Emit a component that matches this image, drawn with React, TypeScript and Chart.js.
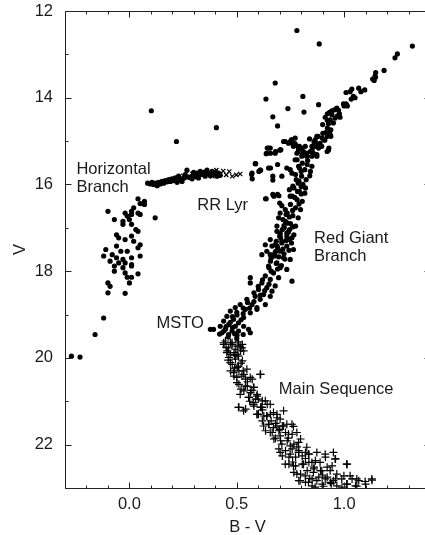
import React, { useEffect, useRef } from "react";
import { Chart, registerables } from "chart.js";

Chart.register(...registerables);

// Axis ranges and tick labels
const xMin = -0.3;
const xMax = 1.4;
const yMin = 12;
const yMax = 23;
const xTickLabels = [0.0, 0.5, 1.0];
const yTickLabels = [12, 14, 16, 18, 20, 22];

// Blue horizontal branch (dots)
const hbBlueDots: number[][] = [
  [0.04, 16.33], [0.07, 16.39], [0.05, 16.44], [0.07, 16.46], [-0.10, 16.62], [0.02, 16.54], [0.01, 16.62],
  [-0.02, 16.66], [0.12, 16.77], [0.01, 16.69], [-0.01, 16.73], [0.04, 16.66], [0.05, 16.69], [-0.07, 16.81],
  [-0.03, 16.85], [0.00, 16.81], [-0.03, 16.92], [0.01, 16.92], [0.03, 17.04], [0.04, 17.08], [-0.06, 17.16],
  [-0.05, 17.23], [0.01, 17.19], [-0.02, 17.27], [0.02, 17.31], [0.05, 17.39], [-0.06, 17.42], [0.04, 17.46],
  [-0.11, 17.50], [-0.04, 17.54], [-0.01, 17.54], [0.05, 17.65], [-0.12, 17.65], [-0.08, 17.62], [-0.06, 17.69],
  [-0.03, 17.73], [0.01, 17.69], [-0.09, 17.77], [-0.05, 17.81], [-0.02, 17.81], [0.01, 17.85], [-0.07, 17.88],
  [-0.03, 17.92], [0.01, 17.88], [-0.07, 18.00], [-0.02, 18.04], [0.04, 18.06], [-0.01, 18.14], [0.01, 18.14],
  [-0.10, 18.27], [-0.09, 18.35], [0.00, 18.27], [-0.10, 18.50], [-0.02, 18.51], [-0.12, 19.08], [-0.16, 19.46],
  [-0.27, 19.96], [-0.23, 19.98],
];

// Horizontal part of the HB (dots)
const hbRedDots: number[][] = [
  [0.085, 15.97], [0.098, 15.99], [0.105, 15.95], [0.113, 16.0], [0.121, 15.97], [0.129, 16.03], [0.136, 15.95],
  [0.144, 15.99], [0.152, 15.93], [0.16, 15.97], [0.167, 15.91], [0.175, 15.94], [0.183, 15.89], [0.191, 15.93],
  [0.198, 15.87], [0.206, 15.91], [0.214, 15.85], [0.222, 15.95], [0.229, 15.81], [0.237, 15.89], [0.245, 15.93],
  [0.253, 15.85], [0.26, 15.77], [0.268, 15.67], [0.276, 15.83], [0.292, 15.87], [0.299, 15.81], [0.315, 15.80],
  [0.322, 15.85], [0.292, 15.81], [0.299, 15.72], [0.307, 15.77], [0.315, 15.74], [0.322, 15.81], [0.33, 15.70],
  [0.338, 15.77], [0.346, 15.72], [0.353, 15.81], [0.361, 15.67], [0.369, 15.75], [0.377, 15.80], [0.385, 15.70],
  [0.392, 15.77], [0.40, 15.72], [0.408, 15.81], [0.415, 15.74], [0.423, 15.79],
];

// RR Lyrae variables (x marks)
const rrLyrCrosses: number[][] = [
  [0.098, 15.98], [0.251, 15.80], [0.27, 15.85], [0.293, 15.76], [0.316, 15.83], [0.34, 15.78], [0.363, 15.74],
  [0.386, 15.81], [0.405, 15.67], [0.423, 15.76], [0.437, 15.69], [0.451, 15.78], [0.465, 15.70], [0.479, 15.81],
  [0.498, 15.78], [0.516, 15.76],
];

// Red giant branch, subgiants and field stars (dots)
const giantDots: number[][] = [
  [0.102, 14.30], [0.219, 15.01], [0.405, 14.69],
  [0.78, 12.45], [0.884, 12.76], [1.318, 12.81], [1.248, 12.99], [1.237, 13.08], [1.186, 13.37], [1.147, 13.42],
  [1.144, 13.50], [1.133, 13.57], [1.14, 13.60], [1.146, 13.53], [0.679, 13.66], [0.636, 14.03], [0.808, 13.97],
  [0.738, 14.25], [0.881, 14.16], [0.668, 14.44], [0.813, 14.33], [0.69, 14.65], [1.096, 13.82], [1.068, 13.78],
  [1.078, 13.86], [1.036, 13.80], [1.028, 13.86], [1.009, 13.88], [1.043, 13.97], [1.033, 14.03], [1.051, 14.0],
  [1.009, 14.14], [1.0, 14.19], [1.015, 14.19], [0.997, 14.14], [0.966, 14.24], [0.955, 14.28], [0.943, 14.30],
  [0.932, 14.34], [0.922, 14.37], [0.974, 14.29], [0.943, 14.39], [0.969, 14.42], [0.981, 14.45], [0.958, 14.47],
  [0.912, 14.45], [0.922, 14.52], [0.935, 14.51], [0.978, 14.37], [0.927, 14.60], [0.922, 14.70], [0.938, 14.74],
  [0.932, 14.80], [0.916, 14.80], [0.935, 14.85], [0.922, 14.89], [0.938, 14.89], [0.901, 14.82], [0.873, 14.89],
  [0.865, 14.97], [0.839, 14.95], [0.876, 15.08], [0.888, 15.05], [0.85, 15.12], [0.865, 15.12], [0.881, 15.16],
  [0.896, 15.12], [0.927, 15.21], [0.819, 15.12], [0.803, 15.16], [0.788, 15.18], [0.772, 14.93], [0.749, 15.01],
  [0.761, 15.06], [0.78, 15.11], [0.718, 15.01], [0.705, 15.20], [0.679, 15.28], [0.648, 15.16], [0.64, 15.28],
  [0.811, 15.24], [0.826, 15.28], [0.842, 15.24], [0.857, 15.28], [0.873, 15.31], [0.803, 15.35], [0.826, 15.35],
  [0.85, 15.35], [0.873, 15.35],
  [0.656, 15.16], [0.70, 15.21], [0.726, 15.01], [0.741, 15.05], [0.757, 14.97], [0.637, 15.29], [0.586, 15.52],
  [0.609, 15.67], [0.571, 15.74], [0.648, 15.62], [0.668, 15.81], [0.668, 15.90], [0.69, 15.54], [0.71, 15.81],
  [0.733, 15.62], [0.749, 15.66], [0.637, 16.33], [0.668, 16.23], [0.69, 16.23], [0.70, 16.43], [0.71, 16.49],
  [0.726, 16.58], [0.702, 16.66], [0.73, 16.69], [0.695, 16.77], [0.715, 16.81], [0.736, 16.89], [0.687, 16.96],
  [0.721, 17.0], [0.746, 17.04], [0.702, 17.12], [0.733, 17.19], [0.656, 17.27], [0.684, 17.31], [0.71, 17.35],
  [0.633, 17.39], [0.664, 17.42], [0.69, 17.46], [0.64, 17.54], [0.617, 17.62], [0.656, 17.62], [0.679, 17.65],
  [0.764, 15.12], [0.78, 15.28], [0.772, 15.43], [0.788, 15.58], [0.757, 15.74], [0.777, 15.89], [0.761, 16.04],
  [0.783, 16.16], [0.749, 16.27],
  [0.588, 15.52], [0.572, 15.87], [0.611, 15.67], [0.657, 15.62], [0.642, 15.16], [0.657, 15.28], [0.68, 15.24],
  [0.704, 15.2], [0.634, 16.33], [0.673, 16.27], [0.696, 16.26], [0.755, 14.97], [0.771, 15.06], [0.792, 15.12],
  [0.786, 15.24], [0.805, 15.31], [0.828, 15.35], [0.851, 15.20], [0.87, 15.05], [0.89, 15.12], [0.879, 14.89],
  [0.906, 14.97], [0.898, 14.93], [0.921, 15.24], [0.929, 15.16], [0.569, 15.77], [0.603, 15.70],
  [0.781, 15.43], [0.805, 15.51], [0.828, 15.54], [0.792, 15.62], [0.817, 15.66], [0.843, 15.70], [0.774, 15.77],
  [0.802, 15.81], [0.823, 15.89], [0.786, 15.97], [0.808, 16.0], [0.766, 16.08], [0.792, 16.16], [0.817, 16.2],
  [0.758, 16.27], [0.781, 16.35], [0.805, 16.39], [0.75, 16.46], [0.774, 16.54], [0.797, 16.58], [0.735, 16.66],
  [0.761, 16.72], [0.786, 16.77], [0.727, 16.85], [0.75, 16.90], [0.774, 16.96], [0.712, 17.04], [0.74, 17.10],
  [0.766, 17.16], [0.704, 17.23], [0.73, 17.29], [0.755, 17.35], [0.688, 17.42], [0.715, 17.49], [0.743, 17.52],
  [0.673, 17.62], [0.696, 17.67], [0.724, 17.72], [0.657, 17.77], [0.684, 17.82], [0.708, 17.87], [0.65, 17.92],
  [0.687, 17.08], [0.702, 17.16], [0.733, 17.12], [0.757, 17.23], [0.71, 17.31], [0.679, 17.39], [0.733, 17.42],
  [0.764, 17.50], [0.702, 17.54], [0.664, 17.65], [0.718, 17.69], [0.749, 17.73], [0.687, 17.81], [0.648, 17.88],
  [0.702, 17.92], [0.733, 17.96], [0.671, 18.04], [0.633, 18.11], [0.695, 18.15], [0.757, 18.23], [0.656, 18.19],
  [0.617, 18.27], [0.679, 18.34], [0.64, 18.38], [0.601, 18.42], [0.664, 18.46], [0.563, 18.15], [0.563, 18.27],
  [0.625, 18.54], [0.586, 18.58], [0.656, 18.58], [0.609, 18.65], [0.547, 18.65], [0.571, 18.77], [0.633, 18.77],
  [0.516, 18.77], [0.594, 18.84], [0.54, 18.88], [0.493, 18.84], [0.47, 18.92], [0.563, 18.96], [0.594, 18.88],
  [0.745, 16.12], [0.80, 16.05], [0.77, 16.30], [0.79, 16.45], [0.76, 16.60], [0.745, 16.75], [0.72, 16.95],
  [0.76, 16.98], [0.70, 17.20], [0.745, 17.27], [0.68, 17.55], [0.72, 17.60], [0.66, 17.70], [0.69, 17.95],
  [0.66, 18.0], [0.62, 18.20], [0.65, 18.30], [0.60, 18.35], [0.63, 18.45], [0.58, 18.50], [0.61, 18.55],
  [0.55, 18.72], [0.58, 18.70], [0.53, 18.85], [0.56, 18.85], [0.50, 18.95], [0.53, 18.98],
  [0.83, 15.45], [0.85, 15.58], [0.80, 15.70], [0.84, 15.80], [0.79, 15.92], [0.82, 16.08], [0.80, 16.22],
  [0.90, 14.62], [0.95, 14.58], [0.91, 14.98], [0.86, 15.02],
];

// Turn-off region (dots)
const mstoDots: number[][] = [
  [0.501, 19.01], [0.454, 19.04], [0.532, 19.07], [0.485, 19.11], [0.439, 19.15], [0.508, 19.19], [0.462, 19.23],
  [0.423, 19.27], [0.493, 19.27], [0.532, 19.27], [0.447, 19.34], [0.478, 19.38], [0.508, 19.38], [0.392, 19.34],
  [0.377, 19.34], [0.462, 19.46], [0.501, 19.48], [0.431, 19.42], [0.555, 19.34], [0.563, 19.42],
  [0.48, 19.05], [0.52, 19.12], [0.47, 19.18], [0.45, 19.28], [0.48, 19.30], [0.44, 19.38], [0.49, 19.44],
  [0.53, 19.46], [0.46, 19.52], [0.50, 19.55], [0.42, 19.45],
];

// Main sequence (+ marks)
const msCrosses: number[][] = [
  [0.447, 19.61], [0.478, 19.65], [0.508, 19.63], [0.462, 19.77], [0.493, 19.80], [0.524, 19.77], [0.47, 19.92],
  [0.508, 19.96], [0.44, 19.69], [0.471, 19.65], [0.502, 19.73], [0.526, 19.69], [0.456, 19.84], [0.487, 19.88],
  [0.518, 19.84], [0.463, 19.99], [0.494, 20.03], [0.526, 20.07], [0.479, 20.15], [0.502, 20.22], [0.471, 20.30],
  [0.51, 20.30], [0.533, 20.38], [0.487, 20.42], [0.611, 20.38], [0.541, 20.49], [0.572, 20.49], [0.51, 20.61],
  [0.549, 20.65], [0.58, 20.68], [0.533, 20.76], [0.564, 20.80], [0.595, 20.84], [0.557, 20.91], [0.588, 20.95],
  [0.619, 20.99], [0.51, 21.14], [0.541, 21.18], [0.58, 21.11], [0.611, 21.14], [0.642, 21.07], [0.595, 21.30],
  [0.626, 21.34], [0.657, 21.30], [0.688, 21.38], [0.619, 21.45], [0.65, 21.53], [0.681, 21.51], [0.712, 21.57],
  [0.634, 21.68], [0.665, 21.72], [0.696, 21.68], [0.727, 21.72], [0.758, 21.76], [0.673, 21.87], [0.704, 21.91],
  [0.735, 21.91], [0.766, 21.99], [0.797, 21.87], [0.696, 22.10], [0.727, 22.14], [0.758, 22.10], [0.789, 22.14],
  [0.82, 22.18], [0.712, 22.26], [0.743, 22.29], [0.774, 22.29], [0.805, 22.26], [0.836, 22.22], [0.743, 22.45],
  [0.774, 22.49], [0.805, 22.45], [0.836, 22.41], [0.866, 22.37], [0.913, 22.29], [0.96, 22.33], [0.766, 22.64],
  [0.797, 22.68], [0.828, 22.60], [0.859, 22.56], [0.89, 22.60], [0.921, 22.52], [0.944, 22.49], [1.014, 22.45],
  [0.789, 22.83], [0.82, 22.87], [0.851, 22.79], [0.882, 22.75], [0.921, 22.75], [0.96, 22.79], [0.999, 22.72],
  [1.037, 22.79], [1.068, 22.83], [1.1, 22.91], [1.13, 22.82], [0.851, 22.95], [0.898, 22.91], [0.936, 22.87],
  [1.014, 22.91], [1.053, 22.95],
  [0.439, 19.65], [0.478, 19.69], [0.516, 19.73], [0.454, 19.88], [0.501, 19.92], [0.532, 19.84], [0.47, 20.11],
  [0.508, 20.19], [0.547, 20.26], [0.485, 20.34], [0.524, 20.42], [0.563, 20.45], [0.609, 20.38], [0.501, 20.57],
  [0.54, 20.65], [0.578, 20.68], [0.516, 20.84], [0.555, 20.91], [0.594, 20.88], [0.633, 20.99], [0.508, 21.14],
  [0.532, 21.22], [0.578, 21.07], [0.617, 21.14], [0.601, 21.30], [0.64, 21.34], [0.671, 21.26], [0.702, 21.41],
  [0.648, 21.53], [0.687, 21.57], [0.733, 21.53], [0.764, 21.58],
  [0.578, 21.03], [0.617, 21.14], [0.656, 21.07], [0.594, 21.30], [0.64, 21.34], [0.687, 21.30], [0.718, 21.22],
  [0.625, 21.57], [0.671, 21.61], [0.718, 21.57], [0.757, 21.53], [0.656, 21.72], [0.702, 21.80], [0.741, 21.76],
  [0.78, 21.72], [0.71, 21.99], [0.749, 22.03], [0.788, 21.95], [0.826, 22.06], [0.702, 22.18], [0.749, 22.22],
  [0.788, 22.18], [0.834, 22.22], [0.873, 22.18], [0.912, 22.22], [0.95, 22.18], [0.958, 22.33], [0.726, 22.45],
  [0.764, 22.49], [0.811, 22.45], [0.85, 22.41], [0.888, 22.41], [0.78, 22.68], [0.819, 22.72], [0.857, 22.64],
  [0.896, 22.60], [0.935, 22.60], [0.966, 22.68], [1.012, 22.45], [0.795, 22.83], [0.834, 22.87], [0.873, 22.83],
  [0.912, 22.79], [0.95, 22.83], [0.989, 22.79], [1.028, 22.72], [1.059, 22.79], [1.098, 22.85], [1.129, 22.79],
  [0.865, 22.98], [0.904, 22.96], [0.966, 22.95], [1.012, 22.91], [1.059, 22.96],
  [0.45, 19.75], [0.49, 19.95], [0.46, 20.05], [0.52, 20.12], [0.49, 20.25], [0.53, 20.30], [0.50, 20.45],
  [0.55, 20.55], [0.52, 20.72], [0.57, 20.75], [0.60, 20.95], [0.56, 21.0], [0.62, 21.20], [0.66, 21.45],
  [0.70, 21.65], [0.74, 21.85], [0.78, 22.05], [0.82, 22.32], [0.86, 22.52], [0.90, 22.70], [0.94, 22.90],
  [0.99, 22.98], [0.76, 22.40], [0.84, 22.78], [0.68, 21.85],
];

// Annotation labels (text, left-x in B-V, baseline in V)
const annotationTexts = ["Horizontal", "Branch", "RR Lyr", "Red Giant", "Branch", "MSTO", "Main Sequence"];
const annotationX = [-0.247, -0.247, 0.316, 0.86, 0.86, 0.126, 0.696];
const annotationY = [15.75, 16.17, 16.58, 17.35, 17.77, 19.3, 20.84];

const FONT = '"Liberation Sans", Arial, Helvetica, sans-serif';
const FONT_SIZE = 16.5;
const TEXT_COLOR = "#1a1a1a";

const toPts = (arr: number[][]) => arr.map(([x, y]) => ({ x, y }));

const framePlugin = {
  id: "frameAndLabels",
  afterDatasetsDraw(chart: any) {
    const { ctx, chartArea, scales } = chart;
    const xs = scales.x;
    const ys = scales.y;
    ctx.save();
    ctx.strokeStyle = "#222";
    ctx.lineWidth = 1;
    const L = Math.round(chartArea.left) + 0.5;
    const R = Math.round(chartArea.right) + 0.5;
    const T = Math.round(chartArea.top) + 0.5;
    const B = Math.round(chartArea.bottom) + 0.5;
    ctx.beginPath();
    ctx.rect(L, T, R - L, B - T);
    ctx.stroke();
    ctx.beginPath();
    for (let i = Math.round(xMin * 10); i <= Math.round(xMax * 10); i++) {
      const v = i / 10;
      const px = Math.round(xs.getPixelForValue(v)) + 0.5;
      const len = i % 5 === 0 ? 6 : 3;
      ctx.moveTo(px, B);
      ctx.lineTo(px, B - len);
      ctx.moveTo(px, T);
      ctx.lineTo(px, T + len);
    }
    for (let v = yMin; v <= yMax; v++) {
      const py = Math.round(ys.getPixelForValue(v)) + 0.5;
      const len = v % 2 === 0 ? 6 : 3;
      ctx.moveTo(L, py);
      ctx.lineTo(L + len, py);
      ctx.moveTo(R, py);
      ctx.lineTo(R - len, py);
    }
    ctx.stroke();

    ctx.fillStyle = TEXT_COLOR;
    ctx.font = `${FONT_SIZE}px ${FONT}`;
    ctx.textAlign = "left";
    ctx.textBaseline = "alphabetic";
    annotationTexts.forEach((t, i) => {
      ctx.fillText(t, xs.getPixelForValue(annotationX[i]), ys.getPixelForValue(annotationY[i]));
    });

    // axis titles
    ctx.textAlign = "center";
    ctx.fillText("B - V", (chartArea.left + chartArea.right) / 2, 532);
    ctx.save();
    ctx.translate(25, (chartArea.top + chartArea.bottom) / 2);
    ctx.rotate(-Math.PI / 2);
    ctx.fillText("V", 0, 0);
    ctx.restore();
    ctx.restore();
  },
};

export default function App() {
  const ref = useRef<HTMLCanvasElement | null>(null);
  useEffect(() => {
    if (!ref.current) return;
    const dotStyle = {
      pointStyle: "circle",
      pointRadius: 2.6,
      pointBorderWidth: 0,
      pointBackgroundColor: "#000",
      borderColor: "#000",
      showLine: false,
    };
    const chart = new Chart(ref.current, {
      type: "scatter",
      data: {
        datasets: [
          { label: "HB blue", data: toPts(hbBlueDots), ...dotStyle },
          { label: "HB", data: toPts(hbRedDots), ...dotStyle },
          { label: "Giants", data: toPts(giantDots), ...dotStyle },
          { label: "MSTO", data: toPts(mstoDots), ...dotStyle },
          {
            label: "RR Lyr",
            data: toPts(rrLyrCrosses),
            pointStyle: "crossRot",
            pointRadius: 3,
            pointBorderWidth: 1.2,
            pointBorderColor: "#000",
            borderColor: "#000",
            showLine: false,
          },
          {
            label: "Main Sequence",
            data: toPts(msCrosses),
            pointStyle: "cross",
            pointRadius: 4,
            pointBorderWidth: 1.2,
            pointBorderColor: "#000",
            borderColor: "#000",
            showLine: false,
          },
        ],
      } as any,
      options: {
        animation: false,
        responsive: false,
        devicePixelRatio: 1,
        layout: { padding: { left: 0, top: 11, right: 10, bottom: 0 } },
        plugins: { legend: { display: false }, tooltip: { enabled: false } },
        scales: {
          x: {
            type: "linear",
            min: xMin,
            max: xMax,
            grid: { display: false, drawTicks: false },
            border: { display: false },
            afterFit: (s: any) => {
              s.height = 47;
              s.paddingLeft = 0;
              s.paddingRight = 0;
            },
            ticks: {
              stepSize: 0.1,
              autoSkip: false,
              maxRotation: 0,
              padding: 7,
              color: TEXT_COLOR,
              font: { family: FONT, size: FONT_SIZE },
              callback: (v: any) => {
                const n = Number(v);
                const hit = xTickLabels.find((t) => Math.abs(t - n) < 1e-6);
                return hit !== undefined ? hit.toFixed(1) : "";
              },
            },
          },
          y: {
            type: "linear",
            min: yMin,
            max: yMax,
            reverse: true,
            grid: { display: false, drawTicks: false },
            border: { display: false },
            afterFit: (s: any) => {
              s.width = 65;
              s.paddingTop = 0;
              s.paddingBottom = 0;
            },
            ticks: {
              stepSize: 1,
              autoSkip: false,
              padding: 12,
              color: TEXT_COLOR,
              font: { family: FONT, size: FONT_SIZE },
              callback: (v: any) => {
                const n = Number(v);
                return yTickLabels.includes(n) ? String(n) : "";
              },
            },
          },
        },
      },
      plugins: [framePlugin],
    } as any);
    return () => chart.destroy();
  }, []);
  return (
    <div
      style={{
        position: "fixed",
        left: 0,
        top: 0,
        width: 425,
        height: 535,
        overflow: "hidden",
        background: "#fff",
      }}
    >
      <canvas ref={ref} width={440} height={535} style={{ display: "block", width: 440, height: 535 }} />
    </div>
  );
}
